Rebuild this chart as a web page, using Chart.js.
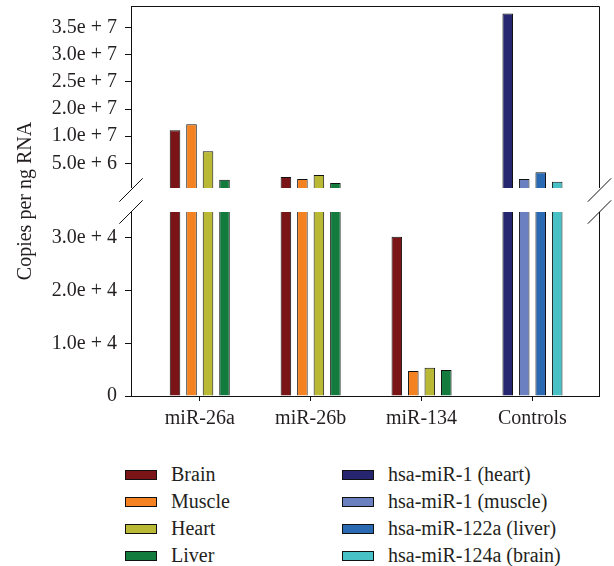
<!DOCTYPE html>
<html>
<head>
<meta charset="utf-8">
<script src="https://cdn.jsdelivr.net/npm/chart.js@4.4.1/dist/chart.umd.min.js"></script>
<style>
  html, body { margin: 0; padding: 0; background: #fff; }
  #wrap { position: relative; width: 614px; height: 566px; }
  #c { position: absolute; left: 0; top: 0; }
  .lg { position: absolute; font-family: "Liberation Serif", serif; font-size: 20px; color: #231f20; white-space: nowrap; line-height: 22px; }
  .sw { position: absolute; width: 30px; height: 8px; border: 1px solid #111; }
</style>
</head>
<body>
<div id="wrap">
  <canvas id="c" width="614" height="440"></canvas>
  <div id="legend"></div>
</div>
<script>
// ---------- data ----------
const categories = ['miR-26a', 'miR-26b', 'miR-134', 'Controls'];

const brain   = [1.22e7, 2.48e6, 3.02e4, null];
const muscle  = [1.44e7, 2.10e6, 4.73e3, null];
const heart   = [7.25e6, 2.85e6, 5.36e3, null];
const liver   = [2.00e6, 1.38e6, 4.92e3, null];
const mir1Heart  = [null, null, null, 3.76e7];
const mir1Muscle = [null, null, null, 2.10e6];
const mir122aLiver = [null, null, null, 3.35e6];
const mir124aBrain = [null, null, null, 1.62e6];

const seriesNames = ['Brain', 'Muscle', 'Heart', 'Liver',
  'hsa-miR-1 (heart)', 'hsa-miR-1 (muscle)', 'hsa-miR-122a (liver)', 'hsa-miR-124a (brain)'];
const seriesColors = ['#7b1416', '#f48221', '#bab935', '#137b3d',
  '#262670', '#6b80c0', '#2a6ab3', '#47c1c6'];
const seriesValues = [brain, muscle, heart, liver, mir1Heart, mir1Muscle, mir122aLiver, mir124aBrain];

// y axis (broken): lower and upper tick values and their printed labels
const lowerTickValues = [0, 1e4, 2e4, 3e4];
const lowerTickLabels = ['0', '1.0e + 4', '2.0e + 4', '3.0e + 4'];
const upperTickValues = [5e6, 1e7, 2e7, 2.5e7, 3e7, 3.5e7];
const upperTickLabels = ['5.0e + 6', '1.0e + 7', '2.0e + 7', '2.5e + 7', '3.0e + 7', '3.5e + 7'];

// ---------- broken scale ----------
const FONT = '"Liberation Serif", serif';
const FS = 20;
const TXT = '#231f20';
const brk = {
  lowerMin: 0, lowerMax: 3.49e4, lowerWeight: 184,
  gapWeight: 24,
  upperMin: 4.6e5, upperMax: 3.9e7, upperWeight: 182,
  knots: upperTickValues
};

function upperU(v) {
  const k = brk.knots, n = k.length;
  if (v <= k[0]) return (v - k[0]) / (k[1] - k[0]);
  if (v >= k[n - 1]) return (n - 1) + (v - k[n - 1]) / (k[n - 1] - k[n - 2]);
  for (let i = 0; i < n - 1; i++) {
    if (v >= k[i] && v <= k[i + 1]) return i + (v - k[i]) / (k[i + 1] - k[i]);
  }
  return 0;
}
function fracForValue(v) {
  const total = brk.lowerWeight + brk.gapWeight + brk.upperWeight;
  if (v <= brk.lowerMax) {
    return (v - brk.lowerMin) / (brk.lowerMax - brk.lowerMin) * brk.lowerWeight / total;
  }
  const uMin = upperU(brk.upperMin), uMax = upperU(brk.upperMax);
  if (v >= brk.upperMin) {
    const u = upperU(v);
    return (brk.lowerWeight + brk.gapWeight + (u - uMin) / (uMax - uMin) * brk.upperWeight) / total;
  }
  const t = (v - brk.lowerMax) / (brk.upperMin - brk.lowerMax);
  return (brk.lowerWeight + t * brk.gapWeight) / total;
}

class BrokenLinearScale extends Chart.LinearScale {
  static id = 'brokenLinear';
  static defaults = {};
  buildTicks() {
    return lowerTickValues.concat(upperTickValues).map(v => ({ value: v }));
  }
  getPixelForValue(value) {
    if (value === null || value === undefined || isNaN(value)) return NaN;
    return this.bottom - fracForValue(value) * (this.bottom - this.top);
  }
  getValueForPixel(pixel) {
    return 0;
  }
}
Chart.register(BrokenLinearScale);

function yLabel(v) {
  let i = lowerTickValues.indexOf(v);
  if (i >= 0) return lowerTickLabels[i];
  i = upperTickValues.indexOf(v);
  if (i >= 0) return upperTickLabels[i];
  return '';
}

// ---------- frame / break plugin ----------
const breakPlugin = {
  id: 'breakPlugin',
  afterDraw(chart) {
    const ctx = chart.ctx;
    const ca = chart.chartArea;
    const y = chart.scales.y;
    const gapTop = y.getPixelForValue(brk.upperMin);
    const gapBottom = y.getPixelForValue(brk.lowerMax);
    ctx.save();
    ctx.strokeStyle = '#111';
    ctx.lineWidth = 1;
    // top and right frame
    ctx.beginPath();
    ctx.moveTo(ca.left, ca.top + 0.5);
    ctx.lineTo(ca.right + 0.5, ca.top + 0.5);
    ctx.lineTo(ca.right + 0.5, ca.bottom);
    ctx.stroke();
    // white gap
    ctx.fillStyle = '#fff';
    ctx.fillRect(ca.left - 3, gapTop, ca.right - ca.left + 6, gapBottom - gapTop);
    // break marks
    const d = 11.7;
    const marks = [gapTop + 2, gapBottom];
    [ca.left, ca.right + 0.5].forEach(x => {
      marks.forEach(c => {
        ctx.beginPath();
        ctx.moveTo(x - d, c + d);
        ctx.lineTo(x + d, c - d);
        ctx.stroke();
      });
    });
    ctx.restore();
  }
};

// ---------- chart ----------
const datasets = seriesNames.map((name, s) => ({
  label: name,
  data: categories.map((c, i) => ({ x: i, y: seriesValues[s][i] })),
  backgroundColor: seriesColors[s],
  borderColor: '#111',
  borderWidth: 1,
  skipNull: true,
  categoryPercentage: 0.595,
  barPercentage: 0.64
}));

new Chart(document.getElementById('c'), {
  type: 'bar',
  data: { datasets },
  options: {
    responsive: false,
    animation: false,
    devicePixelRatio: 1,
    events: [],
    layout: { padding: { top: 6, right: 15, left: 0, bottom: 0 } },
    plugins: { legend: { display: false }, tooltip: { enabled: false } },
    scales: {
      x: {
        type: 'linear',
        offset: false,
        min: -0.62,
        max: 3.6,
        afterBuildTicks: s => { s.ticks = categories.map((c, i) => ({ value: i })); },
        afterFit: s => { s.height = 44; s.paddingLeft = 0; s.paddingRight = 0; },
        grid: { offset: false, drawOnChartArea: false, drawTicks: true, tickLength: 5, color: '#111' },
        border: { display: true, color: '#111', width: 1 },
        ticks: {
          autoSkip: false,
          maxRotation: 0,
          padding: 6,
          color: TXT,
          font: { family: FONT, size: FS },
          callback: v => categories[v] !== undefined ? categories[v] : ''
        }
      },
      y: {
        type: 'brokenLinear',
        min: 0,
        max: brk.upperMax,
        afterFit: s => { s.width = 131; s.paddingTop = 0; s.paddingBottom = 0; },
        grid: { drawOnChartArea: false, drawTicks: true, tickLength: 6, color: '#111' },
        border: { display: true, color: '#111', width: 1 },
        ticks: {
          autoSkip: false,
          padding: 8,
          color: TXT,
          font: { family: FONT, size: FS },
          callback: v => yLabel(v)
        },
        title: {
          display: true,
          text: 'Copies per ng RNA',
          color: TXT,
          font: { family: FONT, size: FS },
          padding: { top: 14, bottom: 0 }
        }
      }
    }
  },
  plugins: [breakPlugin]
});

// ---------- legend (HTML) ----------
const legend = document.getElementById('legend');
const colX = [125, 342];
const textX = [171, 388];
const rowY = [475, 502, 529, 556];
seriesNames.forEach((name, s) => {
  const col = s < 4 ? 0 : 1;
  const row = s % 4;
  const sw = document.createElement('div');
  sw.className = 'sw';
  sw.style.left = colX[col] + 'px';
  sw.style.top = (rowY[row] - 5) + 'px';
  sw.style.background = seriesColors[s];
  legend.appendChild(sw);
  const t = document.createElement('div');
  t.className = 'lg';
  t.style.left = textX[col] + 'px';
  t.style.top = (rowY[row] - 12) + 'px';
  t.textContent = name;
  legend.appendChild(t);
});
</script>
</body>
</html>
